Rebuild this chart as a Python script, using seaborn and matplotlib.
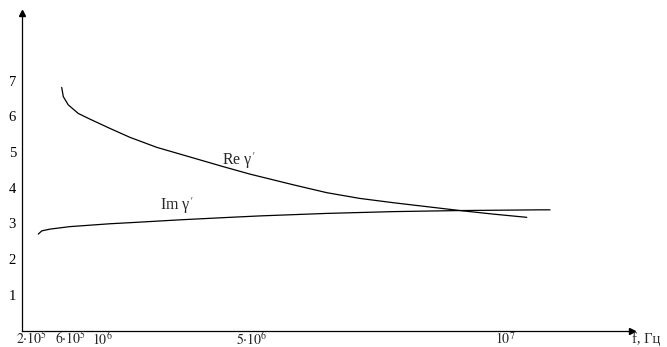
import numpy as np
import pandas as pd
import matplotlib
matplotlib.use("Agg")
import matplotlib.pyplot as plt
import seaborn as sns

# Values (axis is drawn schematically, not to scale)
re_freq = [5.56e5, 5.87e5, 6.61e5, 8.04e5, 9.71e5, 1.45e6, 1.95e6, 2.62e6, 3.45e6,
           4.28e6, 4.95e6, 5.82e6, 6.48e6, 7.13e6, 7.79e6, 8.45e6, 9.11e6, 9.77e6, 1.043e7]
re_gamma = [6.81, 6.55, 6.32, 6.08, 5.92, 5.66, 5.41, 5.13, 4.86,
            4.59, 4.38, 4.08, 3.86, 3.70, 3.58, 3.47, 3.36, 3.26, 3.17]

im_freq = [1.56e5, 1.88e5, 3.33e5, 6.86e5, 1.45e6, 1.95e6, 3.2e6, 4.45e6, 5.16e6,
           6.48e6, 7.79e6, 9.11e6, 1.069e7, 1.089e7]
im_gamma = [2.70, 2.79, 2.84, 2.91, 2.99, 3.02, 3.10, 3.17, 3.21,
            3.28, 3.33, 3.36, 3.38, 3.38]

x_ticks = [2e5, 6e5, 1e6, 5e6, 1e7]
x_tick_labels = [r"$2{\cdot}10^5$", r"$6{\cdot}10^5$", r"$10^6$", r"$5{\cdot}10^6$", r"$10^7$"]
y_ticks = [1, 2, 3, 4, 5, 6, 7]

# piecewise-linear frequency scale matching the hand-drawn axis
scale_f = np.array([0, 2e5, 6e5, 1e6, 5e6, 1e7, 1e8])
scale_p = np.array([0, 21.5, 42.5, 70.5, 230.5, 483.5, 483.5 + 50.6 * 90])


def fwd(f):
    return np.interp(np.asarray(f, dtype=float), scale_f, scale_p)


def inv(p):
    return np.interp(np.asarray(p, dtype=float), scale_p, scale_f)


df = pd.concat([
    pd.DataFrame({"f": re_freq, "v": re_gamma, "part": "Re"}),
    pd.DataFrame({"f": im_freq, "v": im_gamma, "part": "Im"}),
])

sns.set_style("white")
plt.rcParams["font.family"] = ["Liberation Serif", "DejaVu Serif"]
plt.rcParams["mathtext.fontset"] = "stix"

fig = plt.figure(figsize=(6.67, 3.47), dpi=100)
ax = fig.add_axes([21.5 / 667, 16.5 / 347, 610.5 / 667, 317.5 / 347])
ax.set_xscale("function", functions=(fwd, inv))

sns.lineplot(data=df, x="f", y="v", units="part", estimator=None, sort=False,
             color="black", linewidth=0.9, ax=ax)

ax.set_xlim(0, float(inv(610.5)))
ax.set_ylim(0, 317.5 / 35.7)

for s in ["top", "right"]:
    ax.spines[s].set_visible(False)
for s in ["left", "bottom"]:
    ax.spines[s].set_linewidth(0.9)
    ax.spines[s].set_color("black")

# arrow heads
ax.plot(1, 0, ">", color="black", markersize=4.5, transform=ax.transAxes, clip_on=False)
ax.plot(0, 1, "^", color="black", markersize=4.5, transform=ax.transAxes, clip_on=False)

ax.set_yticks(y_ticks)
ax.set_yticklabels([str(t) for t in y_ticks], fontsize=10.5)
ax.tick_params(axis="y", direction="in", length=6, width=0.8, pad=4, colors="black")

ax.set_xticks(x_ticks)
ax.set_xticklabels([])
ax.tick_params(axis="x", direction="in", length=4.3, width=0.8, colors="black")

# tick labels are nudged like in the drawing
label_shift = [-8, 5, 0, 0, 0]
label_ha = ["center", "center", "left", "center", "center"]
for t, lab, dx, ha in zip(x_ticks, x_tick_labels, label_shift, label_ha):
    ax.annotate(lab, xy=(t, 0), xycoords=("data", "axes fraction"),
                xytext=(dx, -0.3), textcoords="offset points",
                ha=ha, va="top", fontsize=10, annotation_clip=False)

ax.annotate("f, Гц", xy=(1, 0), xycoords="axes fraction", xytext=(0, -1),
            textcoords="offset points", ha="left", va="top", fontsize=10.5,
            annotation_clip=False)

ax.text(4.25e6, 4.64, "Re γ$^{\\prime}$", fontsize=11.5, ha="left", va="baseline")
ax.text(2.7e6, 3.375, "Im γ$^{\\prime}$", fontsize=11.5, ha="left", va="baseline")

ax.set_xlabel("")
ax.set_ylabel("")
ax.grid(False)

fig.savefig("out.png", dpi=100)
